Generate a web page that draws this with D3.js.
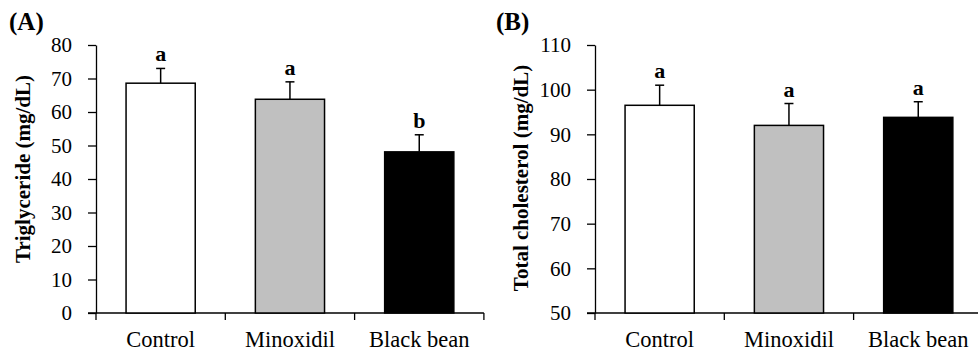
<!doctype html>
<html>
<head>
  <meta charset="utf-8">
  <title>Triglyceride and total cholesterol</title>
  <script src="https://d3js.org/d3.v7.min.js"></script>
  <style>
    body { margin:0; background:#fff; }
    svg { display:block; font-family:"Liberation Serif","Times New Roman",serif; }
    .tick text { font-size:21px; fill:#000; }
    .cat { font-size:22.5px; fill:#000; }
    .ytitle { font-size:21px; font-weight:bold; fill:#000; }
    .panel { font-size:25px; font-weight:bold; fill:#000; }
    .sig { font-size:22px; font-weight:bold; fill:#000; }
  </style>
</head>
<body>
  <svg id="chart" width="978" height="353"></svg>
  <script>
    const groups   = ["Control", "Minoxidil", "Black bean"];
    const barFills = ["#ffffff", "#c0c0c0", "#000000"];

    // (A) triglyceride
    const tgMean    = [68.6, 63.8, 48.1];
    const tgErr     = [4.4, 5.2, 5.1];
    const tgLetters = ["a", "a", "b"];
    const tgTicks   = [0, 10, 20, 30, 40, 50, 60, 70, 80];

    // (B) total cholesterol
    const tcMean    = [96.5, 92.0, 93.8];
    const tcErr     = [4.5, 4.9, 3.5];
    const tcLetters = ["a", "a", "a"];
    const tcTicks   = [50, 60, 70, 80, 90, 100, 110];

    const svg = d3.select("#chart");
    const plotTop = 45, plotBottom = 313;

    function drawPanel(p) {
      const g = svg.append("g");
      const x = d3.scaleBand().domain(groups).range([p.left, p.left + 3 * 129.3]).padding(0);
      const y = d3.scaleLinear().domain([p.ticks[0], p.ticks[p.ticks.length - 1]]).range([plotBottom, plotTop]);
      const barW = x.bandwidth() * 0.535;

      // y axis
      const ya = g.append("g")
        .attr("transform", `translate(${p.left},0)`)
        .call(d3.axisLeft(y).tickValues(p.ticks).tickSize(8).tickPadding(5).tickSizeOuter(0));
      ya.attr("font-family", null).attr("font-size", null);
      ya.select(".domain").attr("stroke", "#000").attr("stroke-width", 1.3);
      ya.selectAll(".tick line").attr("stroke", "#000").attr("stroke-width", 1.3);
      ya.selectAll(".tick text").attr("x", -24);

      // x axis line + category ticks
      g.append("line")
        .attr("x1", p.left - 8).attr("x2", x.range()[1])
        .attr("y1", plotBottom).attr("y2", plotBottom)
        .attr("stroke", "#000").attr("stroke-width", 1.3);
      const edges = groups.map(d => x(d)).concat([x.range()[1]]);
      g.selectAll(".ctick").data(edges).enter().append("line")
        .attr("x1", d => d).attr("x2", d => d)
        .attr("y1", plotBottom).attr("y2", plotBottom + 7)
        .attr("stroke", "#000").attr("stroke-width", 1.3);
      g.selectAll(".cat").data(groups).enter().append("text")
        .attr("class", "cat")
        .attr("x", d => x(d) + x.bandwidth() / 2)
        .attr("y", 347)
        .attr("text-anchor", "middle")
        .text(d => d);

      // error bars (drawn first so bar outline covers their base)
      groups.forEach((d, i) => {
        const cx = x(d) + x.bandwidth() / 2;
        g.append("line")
          .attr("x1", cx).attr("x2", cx)
          .attr("y1", y(p.mean[i])).attr("y2", y(p.mean[i] + p.err[i]))
          .attr("stroke", "#000").attr("stroke-width", 1.5);
        g.append("line")
          .attr("x1", cx - 4.5).attr("x2", cx + 4.5)
          .attr("y1", y(p.mean[i] + p.err[i])).attr("y2", y(p.mean[i] + p.err[i]))
          .attr("stroke", "#000").attr("stroke-width", 1.5);
        g.append("text")
          .attr("class", "sig")
          .attr("x", cx)
          .attr("y", y(p.mean[i] + p.err[i]) - 7)
          .attr("text-anchor", "middle")
          .text(p.letters[i]);
      });

      // bars
      g.selectAll(".bar").data(groups).enter().append("rect")
        .attr("x", d => x(d) + (x.bandwidth() - barW) / 2)
        .attr("width", barW)
        .attr("y", (d, i) => y(p.mean[i]))
        .attr("height", (d, i) => plotBottom - y(p.mean[i]))
        .attr("fill", (d, i) => barFills[i])
        .attr("stroke", "#000").attr("stroke-width", 1.5);

      // titles
      g.append("text")
        .attr("class", "ytitle")
        .attr("transform", `translate(${p.titleX},${p.titleY}) rotate(-90)`)
        .attr("text-anchor", "middle")
        .text(p.title);
      g.append("text")
        .attr("class", "panel")
        .attr("x", p.panelX).attr("y", 30)
        .text(p.panelLabel);
    }

    drawPanel({
      left: 96, ticks: tgTicks, mean: tgMean, err: tgErr, letters: tgLetters,
      title: "Triglyceride (mg/dL)", titleX: 30, titleY: 169,
      panelLabel: "(A)", panelX: 9
    });
    drawPanel({
      left: 595, ticks: tcTicks, mean: tcMean, err: tcErr, letters: tcLetters,
      title: "Total cholesterol (mg/dL)", titleX: 528, titleY: 178,
      panelLabel: "(B)", panelX: 496
    });
  </script>
</body>
</html>
